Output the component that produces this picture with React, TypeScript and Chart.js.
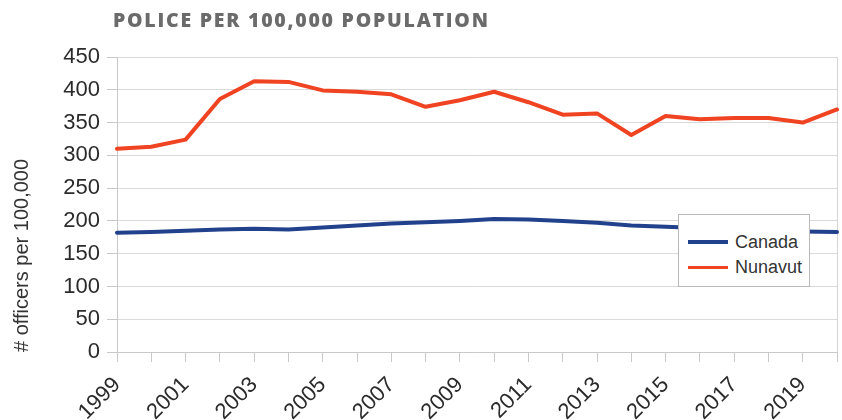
import React, { useEffect, useRef } from 'react';
import { Chart, registerables } from 'chart.js';

Chart.register(...registerables);

const chartTitle = 'POLICE PER 100,000 POPULATION';
const yAxisTitle = '# officers per 100,000';

const years = [
  '1999', '2000', '2001', '2002', '2003', '2004', '2005', '2006', '2007', '2008', '2009',
  '2010', '2011', '2012', '2013', '2014', '2015', '2016', '2017', '2018', '2019', '2020',
];

const canada = [182, 183, 185, 187, 188, 187, 190, 193, 196, 198, 200, 203, 202, 200, 197, 193, 191, 189, 187, 186, 184, 183];
const nunavut = [310, 313, 324, 386, 413, 412, 399, 397, 393, 374, 384, 397, 381, 362, 364, 331, 360, 355, 357, 357, 350, 370];

const seriesNames = ['Canada', 'Nunavut'];
const seriesColors = ['#22418c', '#ef4322'];
const seriesWidths = [4, 3];

const yMin = 0;
const yMax = 450;
const yStep = 50;

const FONT = '"Liberation Sans", Arial, sans-serif';

export default function App() {
  const canvasRef = useRef<HTMLCanvasElement | null>(null);

  useEffect(() => {
    if (!canvasRef.current) return;
    const chart = new Chart(canvasRef.current, {
      type: 'line',
      data: {
        labels: years,
        datasets: [
          {
            label: seriesNames[0],
            data: canada,
            borderColor: seriesColors[0],
            backgroundColor: seriesColors[0],
            borderWidth: 4,
            pointRadius: 0,
            tension: 0,
            borderCapStyle: 'round',
            borderJoinStyle: 'round',
          },
          {
            label: seriesNames[1],
            data: nunavut,
            borderColor: seriesColors[1],
            backgroundColor: seriesColors[1],
            borderWidth: 4,
            pointRadius: 0,
            tension: 0,
            borderCapStyle: 'round',
            borderJoinStyle: 'round',
          },
        ],
      },
      options: {
        responsive: false,
        animation: false,
        layout: { padding: { left: 0, top: 57, right: 5, bottom: 0 } },
        plugins: {
          legend: { display: false },
          tooltip: { enabled: false },
          title: { display: false },
        },
        scales: {
          x: {
            type: 'category',
            offset: false,
            grid: {
              color: (ctx: any) => (ctx.index === years.length - 1 ? '#d6d6d6' : 'rgba(0,0,0,0)'),
              tickColor: '#c9c9c9',
              tickLength: 10,
              lineWidth: 1,
            },
            border: { color: '#c9c9c9', width: 1 },
            ticks: {
              autoSkip: false,
              maxRotation: 45,
              minRotation: 45,
              padding: 10,
              color: '#2b2b2b',
              font: { family: FONT, size: 22 },
              callback: (_v: any, i: number) => (i % 2 === 0 ? years[i] : ''),
            },
            afterFit: (s: any) => {
              s.height = 68;
              s.paddingRight = 0;
              s.paddingLeft = 0;
            },
          },
          y: {
            min: yMin,
            max: yMax,
            grid: {
              color: '#dadada',
              tickColor: '#c9c9c9',
              tickLength: 10,
              lineWidth: 1,
            },
            border: { color: '#c9c9c9', width: 1 },
            ticks: {
              stepSize: yStep,
              padding: 7,
              color: '#2b2b2b',
              font: { family: FONT, size: 22 },
            },
            title: {
              display: true,
              text: yAxisTitle,
              align: 'start',
              color: '#333333',
              font: { family: FONT, size: 20, lineHeight: 1.2 },
              padding: { top: 10, bottom: 0 },
            },
            afterFit: (s: any) => {
              s.width = 117;
              s.paddingTop = 0;
              s.paddingBottom = 0;
            },
          },
        },
      },
    } as any);
    return () => chart.destroy();
  }, []);

  return (
    <div style={{ position: 'absolute', left: 0, top: 0, width: 842, height: 420, background: '#ffffff', overflow: 'hidden' }}>
      <canvas ref={canvasRef} width={842} height={420} style={{ position: 'absolute', left: 0, top: 0, width: 842, height: 420 }} />
      <div
        style={{
          position: 'absolute',
          left: 113,
          top: 6,
          fontFamily: '"Open Sans", sans-serif',
          fontWeight: 800,
          fontSize: 19.5,
          letterSpacing: '1.75px',
          color: '#6b6b6b',
          whiteSpace: 'nowrap',
        }}
      >
        {chartTitle}
      </div>
      <div
        style={{
          position: 'absolute',
          left: 678,
          top: 214,
          width: 132,
          height: 73,
          boxSizing: 'border-box',
          border: '1px solid #b8b8b8',
          background: '#ffffff',
        }}
      >
        {seriesNames.map((name, i) => (
          <div
            key={name}
            style={{
              position: 'absolute',
              left: 9,
              top: 16 + i * 25,
              height: 22,
              display: 'flex',
              alignItems: 'center',
              whiteSpace: 'nowrap',
            }}
          >
            <div style={{ width: 40, height: seriesWidths[i], background: seriesColors[i] }} />
            <span style={{ marginLeft: 7, fontFamily: FONT, fontSize: 18, color: '#333333', lineHeight: '22px' }}>{name}</span>
          </div>
        ))}
      </div>
    </div>
  );
}
